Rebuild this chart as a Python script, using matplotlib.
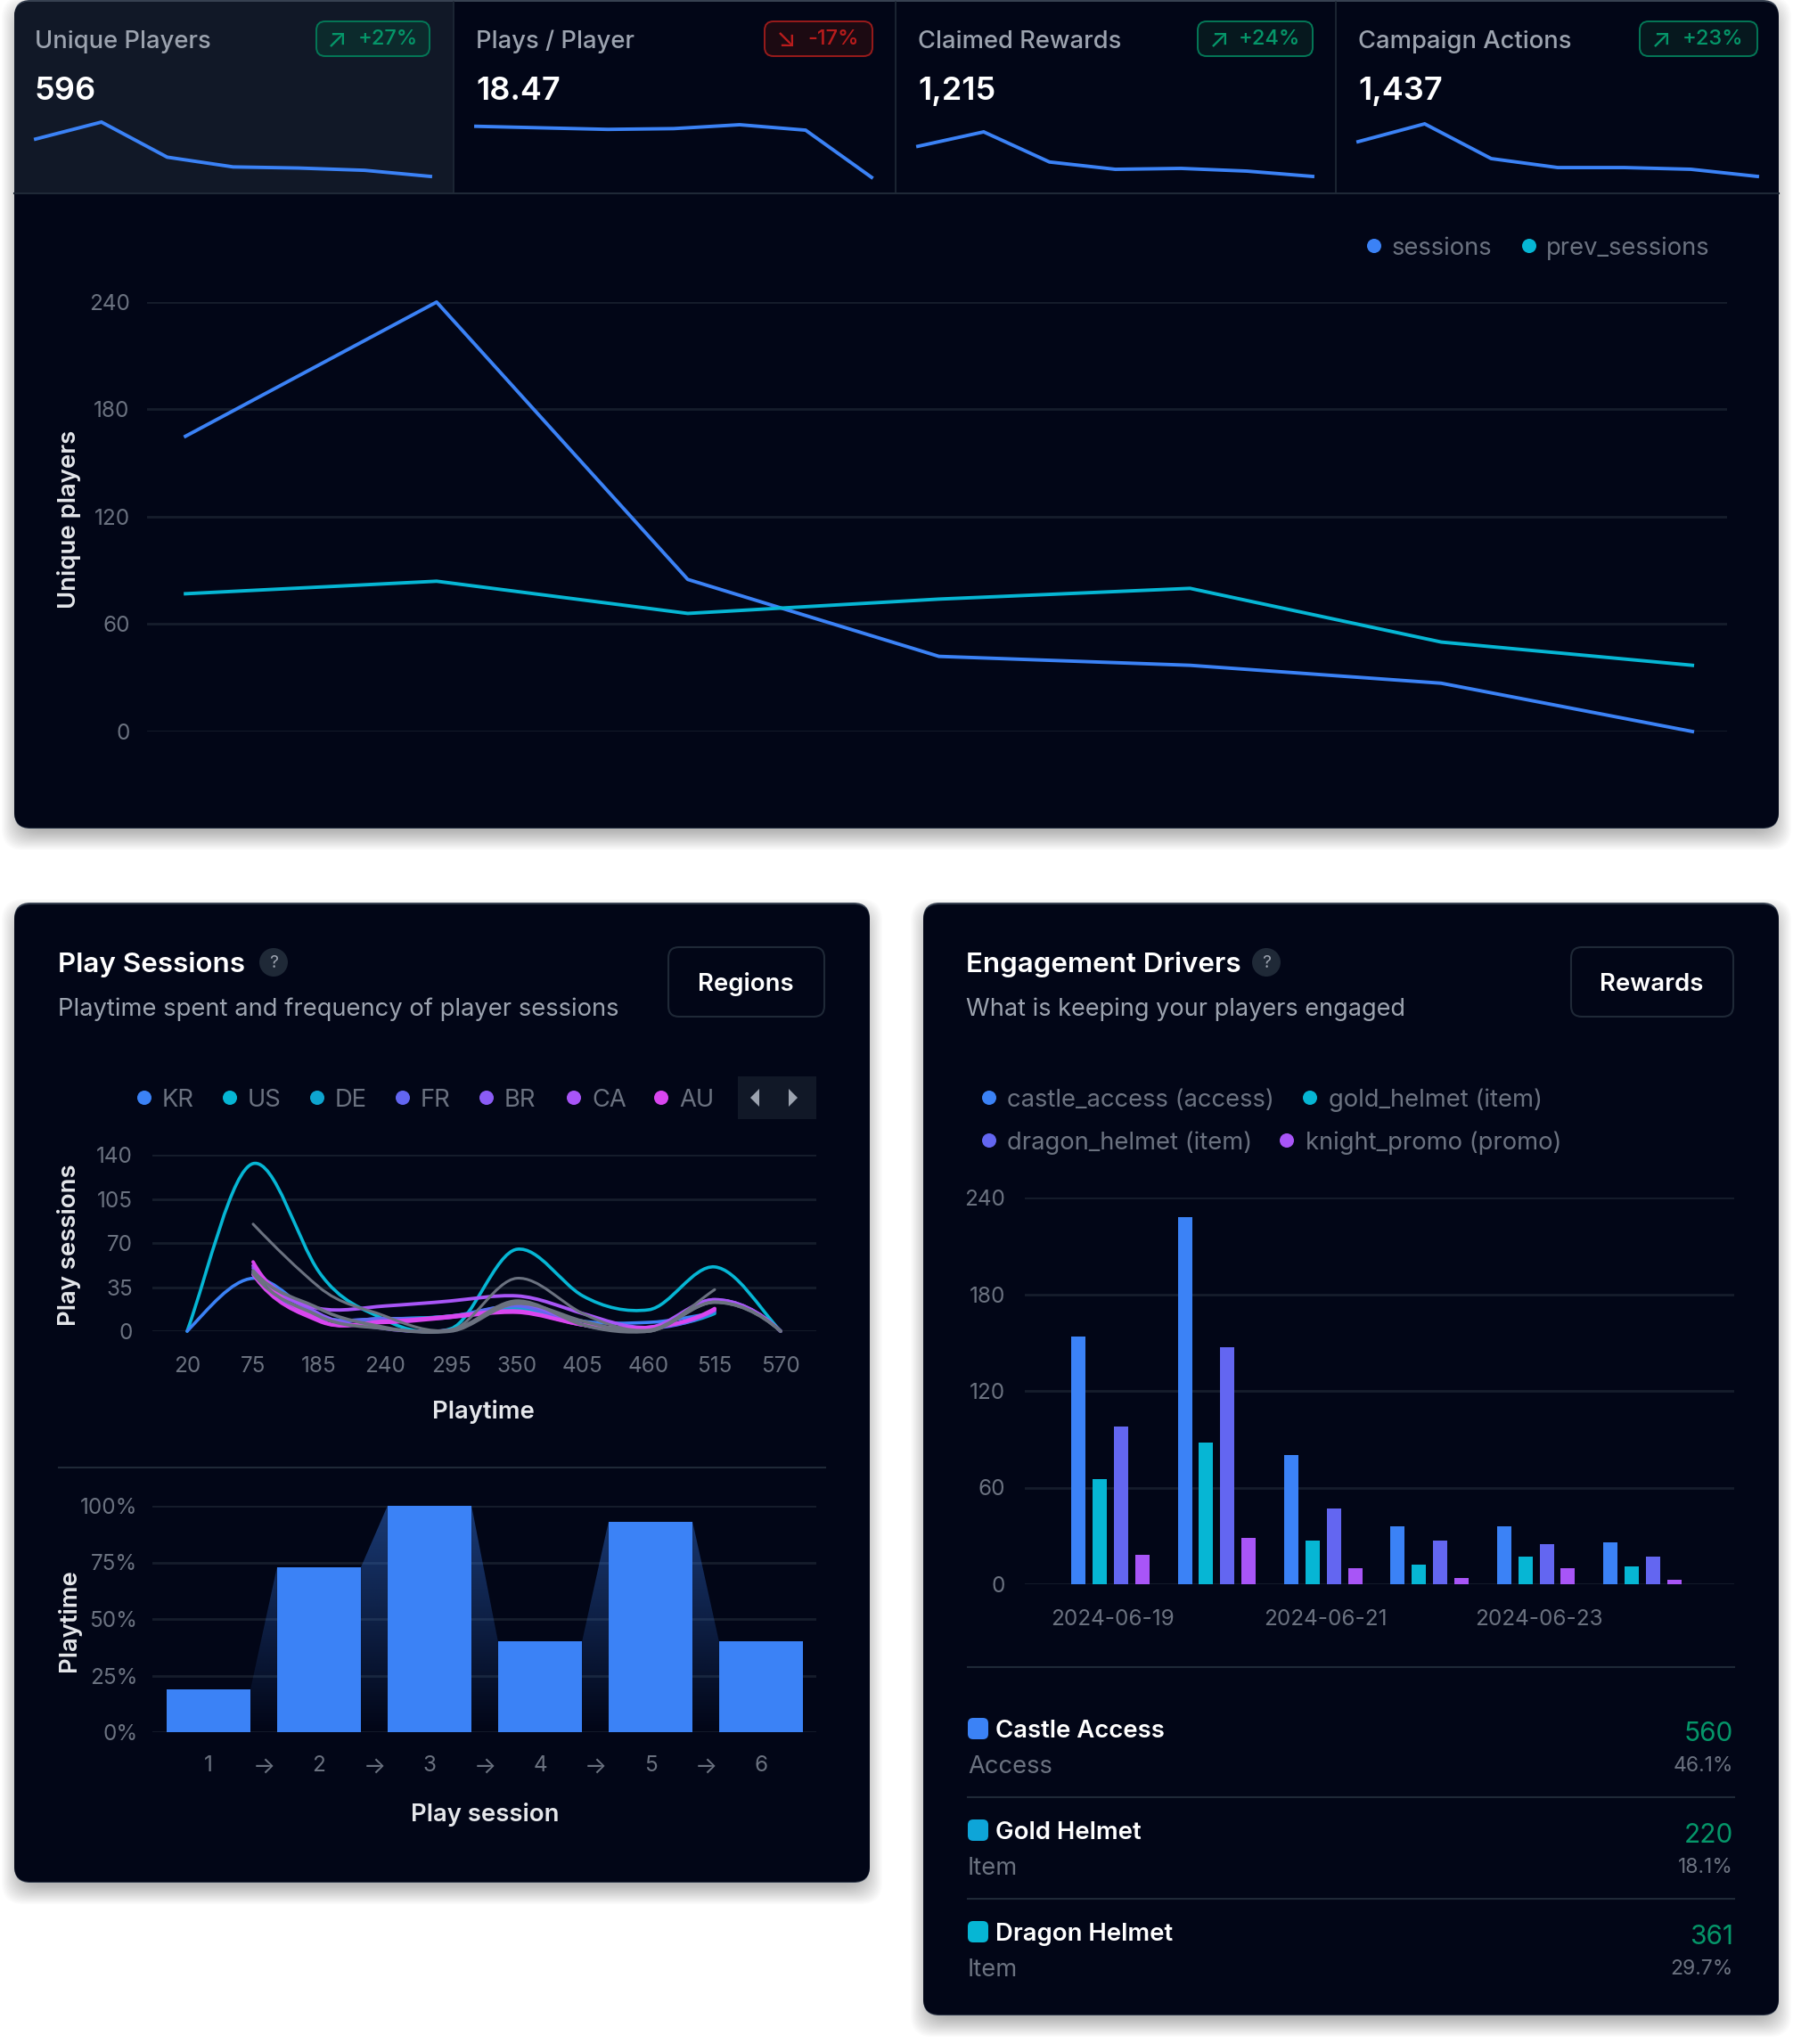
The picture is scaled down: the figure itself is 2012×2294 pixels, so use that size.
import numpy as np
import matplotlib
matplotlib.use('Agg')
import matplotlib.pyplot as plt
from matplotlib.patches import FancyBboxPatch, Rectangle, Circle, PathPatch, Polygon
from matplotlib.path import Path

W, H = 2012, 2294
plt.rcParams['font.family'] = ['Inter', 'DejaVu Sans']

PANEL = '#020617'
CELL = '#111827'
GRID = '#161d2c'
BORDER = '#1f2937'
TICK = '#6b7280'
SUB = '#9ca3af'
AXIS_TITLE = '#e5e7eb'
GREEN = '#059669'
RED = '#b91c1c'
BLUE = '#3b82f6'
CYAN = '#06b6d4'
INDIGO = '#6366f1'
PURPLE = '#a855f7'

# KPI cards
kpi_names = ['Unique Players', 'Plays / Player', 'Claimed Rewards', 'Campaign Actions']
kpi_values = ['596', '18.47', '1,215', '1,437']
kpi_deltas = ['+27%', '-17%', '+24%', '+23%']
spark_unique = [165, 240, 85, 42, 37, 27, 0]
spark_plays = [21.3, 21.1, 20.9, 21.0, 21.5, 20.8, 14.7]
spark_rewards = [334, 494, 160, 79, 89, 59, 0]
spark_actions = [384, 581, 197, 98, 98, 79, 0]

# main line chart
sessions = [165, 240, 85, 42, 37, 27, 0]
prev_sessions = [77, 84, 66, 74, 80, 50, 37]
main_ticks = [0, 60, 120, 180, 240]

# play sessions chart
playtime_labels = ['20', '75', '185', '240', '295', '350', '405', '460', '515', '570']
play_ticks = [0, 35, 70, 105, 140]
n = None
region_us = [0, 133, 47, 9, 2, 65, 28, 17, 51, 0]
region_kr = [0, 42, 12, 10, 12, 20, 8, 7, 15, n]
region_de = [n, 45, 12, 10, 12, 18, 5, 3, 14, n]
region_fr = [n, 47, 10, 10, 11, 20, 5, 2, 16, n]
region_br = [n, 50, 14, 2, 1, 22, 5, 1, 25, 0]
region_ca = [n, 52, 18, 20, 24, 28, 14, 3, 25, 0]
region_au = [n, 55, 9, 8, 12, 16, 5, 3, 17, n]
region_au2 = [n, 45, 8, 7, 11, 15, 5, 3, 18, n]
region_gray1 = [n, 85, 35, 12, 1, 42, 14, 1, 33, n]
region_gray2 = [n, 48, 18, 3, 0, 22, 8, 0, 23, 0]
region_gray3 = [n, 46, 12, 2, 1, 24, 5, 0, 23, 0]

# funnel bars
funnel_labels = ['1', '2', '3', '4', '5', '6']
funnel_values = [19, 73, 100, 40, 93, 40]
funnel_ticks = [0, 25, 50, 75, 100]

# engagement chart
castle_access = [154, 228, 80, 36, 36, 26]
gold_helmet = [65, 88, 27, 12, 17, 11]
dragon_helmet = [98, 147, 47, 27, 25, 17]
knight_promo = [18, 29, 10, 4, 10, 3]
engage_ticks = [0, 60, 120, 180, 240]
date_labels = ['2024-06-19', '2024-06-21', '2024-06-23']

# reward list
reward_names = ['Castle Access', 'Gold Helmet', 'Dragon Helmet']
reward_types = ['Access', 'Item', 'Item']
reward_counts = ['560', '220', '361']
reward_shares = ['46.1%', '18.1%', '29.7%']

fig = plt.figure(figsize=(W / 100, H / 100), dpi=100, facecolor='white')

# full figure axes in pixel coordinates for the cards and loose text
bg = fig.add_axes([0, 0, 1, 1], zorder=0)
bg.set_xlim(0, W)
bg.set_ylim(H, 0)
bg.axis('off')
top = fig.add_axes([0, 0, 1, 1], zorder=5)
top.set_xlim(0, W)
top.set_ylim(H, 0)
top.axis('off')


def chart_axes(x0, y0, x1, y1):
    ax = fig.add_axes([x0 / W, 1 - y1 / H, (x1 - x0) / W, (y1 - y0) / H], zorder=2)
    ax.patch.set_alpha(0)
    for s in ax.spines.values():
        s.set_visible(False)
    return ax


def card(x0, y0, x1, y1):
    # soft drop shadow, built up from stacked translucent boxes
    for i in range(20):
        grow = 14 - i * 1.2
        shadow = FancyBboxPatch((x0 - grow, y0 + 10 - grow), x1 - x0 + grow * 2,
                                y1 - y0 + grow * 2, boxstyle='round,pad=0,rounding_size=24',
                                fc='black', ec='none', alpha=0.016)
        bg.add_patch(shadow)
    # thin lighter edge, only really visible along the top
    bg.add_patch(FancyBboxPatch((x0, y0), x1 - x0, y1 - y0, boxstyle='round,pad=0,rounding_size=18',
                                fc='#374151', ec='none'))
    body = FancyBboxPatch((x0, y0 + 2), x1 - x0, y1 - y0 - 3, boxstyle='round,pad=0,rounding_size=18',
                          fc=PANEL, ec='none')
    bg.add_patch(body)
    return body


def smooth_line(ax, values, color, lw, end_slope=2.0, z=3):
    xs = [i for i, v in enumerate(values) if v is not None]
    ys = [values[i] for i in xs]
    m = []
    for k in range(len(xs)):
        if k == 0:
            m.append(end_slope * (ys[1] - ys[0]))
        elif k == len(xs) - 1:
            m.append(end_slope * (ys[k] - ys[k - 1]))
        elif (ys[k] - ys[k - 1]) * (ys[k + 1] - ys[k]) <= 0:
            m.append(0.3 * (ys[k + 1] - ys[k - 1]))
        else:
            m.append(0.6 * (ys[k + 1] - ys[k - 1]))
    verts = [(xs[0], ys[0])]
    codes = [Path.MOVETO]
    for k in range(len(xs) - 1):
        verts += [(xs[k] + 0.33, ys[k] + m[k] * 0.33), (xs[k + 1] - 0.33, ys[k + 1] - m[k + 1] * 0.33),
                  (xs[k + 1], ys[k + 1])]
        codes += [Path.CURVE4] * 3
    ax.add_patch(PathPatch(Path(verts, codes), fc='none', ec=color, lw=lw, zorder=z,
                           clip_on=False, capstyle='round'))


def style_value_axis(ax, ticks, fmt, pad, size=17.5):
    ax.set_yticks(ticks)
    ax.set_yticklabels([fmt.format(t) for t in ticks])
    ax.tick_params(axis='y', length=0, labelcolor=TICK, labelsize=size, pad=pad)
    ax.grid(axis='y', color=GRID, lw=2)
    ax.set_axisbelow(True)


def dot(x, y, color, r=8):
    top.add_patch(Circle((x, y), r, fc=color, ec='none'))


def label(x, y, s, color=SUB, size=19.7, weight='normal', ha='left', **kw):
    top.text(x, y + 2.5, s, color=color, fontsize=size, fontweight=weight, ha=ha, va='center', **kw)


def axis_title(x, y, s, rotation=0):
    top.text(x, y + 2, s, color=AXIS_TITLE, fontsize=19.8, fontweight='semibold',
             rotation=rotation, ha='center', va='center')


# ---- top panel
main_card = card(16, 0, 1996, 930)
cell = Rectangle((16, 2), 493, 215, fc=CELL, ec='none')
bg.add_patch(cell)
cell.set_clip_path(main_card)
bg.plot([16, 1996], [217, 217], color=BORDER, lw=1.5)
for x in [509, 1005, 1499]:
    bg.plot([x, x], [2, 217], color=BORDER, lw=1.2)

text_x = [39, 534, 1030, 1524]
spark_x = [(40, 483), (534, 978), (1030, 1473), (1524, 1972)]
spark_y = [(137, 198), (140, 199), (148, 198), (139, 198)]
spark_data = [spark_unique, spark_plays, spark_rewards, spark_actions]
badges = [(355, 482, 378, 469), (858, 979, 882, 964), (1344, 1473, 1368, 1459), (1840, 1972, 1864, 1956)]

for i in range(4):
    label(text_x[i], 44, kpi_names[i], color=SUB, weight='medium')
    label(text_x[i], 100, kpi_values[i], color='white', size=26, weight='semibold')
    b0, b1, arrow_x, text_r = badges[i]
    col = RED if kpi_deltas[i].startswith('-') else GREEN
    edge = '#991b1b' if col == RED else '#047857'
    fill = '#1c0a12' if col == RED else '#06181e'
    if i == 0:
        fill = '#0c2a2c'
    top.add_patch(FancyBboxPatch((b0, 24), b1 - b0, 39, boxstyle='round,pad=0,rounding_size=10',
                                 fc=fill, ec=edge, lw=1.4))
    label(arrow_x, 42, '↘' if col == RED else '↗', color=col, size=21, ha='center')
    label(text_r, 42, kpi_deltas[i], color=col, size=17, ha='right', weight='medium')

    ax = chart_axes(spark_x[i][0], spark_y[i][0], spark_x[i][1], spark_y[i][1])
    ax.plot(range(7), spark_data[i], color=BLUE, lw=2.8, clip_on=False, solid_joinstyle='miter')
    ax.set_xlim(0, 6)
    ax.set_ylim(min(spark_data[i]), max(spark_data[i]))
    ax.axis('off')

ax = chart_axes(165, 339, 1938, 821)
ax.plot(range(7), sessions, color=BLUE, lw=2.8, clip_on=False, zorder=3)
ax.plot(range(7), prev_sessions, color=CYAN, lw=2.8, clip_on=False, zorder=3)
ax.set_xlim(-0.153, 6.138)
ax.set_ylim(0, 240)
ax.set_xticks([])
style_value_axis(ax, main_ticks, '{}', 14)
axis_title(78, 581, 'Unique players', rotation=90)

dot(1542, 276, BLUE)
label(1562, 276, 'sessions', color=TICK)
dot(1716, 276, CYAN)
label(1735, 276, 'prev_sessions', color=TICK)

# ---- play sessions panel
card(16, 1013, 976, 2113)
label(65, 1080, 'Play Sessions', color='white', size=22.6, weight='semibold')
top.add_patch(Circle((307, 1080), 16, fc=BORDER, ec='none'))
label(307, 1078, '?', color=SUB, size=14, ha='center')
label(65, 1130, 'Playtime spent and frequency of player sessions', color=SUB)
top.add_patch(FancyBboxPatch((750, 1063), 175, 78, boxstyle='round,pad=0,rounding_size=12',
                             fc='none', ec=BORDER, lw=1.5))
label(837, 1102, 'Regions', color='white', size=19.8, weight='semibold', ha='center')

region_names = ['KR', 'US', 'DE', 'FR', 'BR', 'CA', 'AU']
region_colors = [BLUE, CYAN, '#0ea5d0', INDIGO, '#8b5cf6', PURPLE, '#d946ef']
legend_dot_x = [162, 258, 356, 452, 546, 644, 742]
for x, name, col in zip(legend_dot_x, region_names, region_colors):
    dot(x, 1232, col)
    label(x + 20, 1232, name, color=TICK)
top.add_patch(Rectangle((828, 1208), 88, 48, fc=CELL, ec='none'))
top.add_patch(Polygon([(852, 1222), (852, 1242), (842, 1232)], fc=SUB, ec='none'))
top.add_patch(Polygon([(885, 1222), (885, 1242), (895, 1232)], fc=SUB, ec='none'))

ax = chart_axes(171, 1296, 916, 1494)
ax.set_xlim((171 - 210) / 74, (916 - 210) / 74)
ax.set_ylim(0, 140)
ax.set_xticks(range(10))
ax.set_xticklabels(playtime_labels)
ax.tick_params(axis='x', length=0, labelcolor=TICK, labelsize=17.5, pad=20)
style_value_axis(ax, play_ticks, '{}', 16)
smooth_line(ax, region_us, CYAN, 2.6, end_slope=1.1)
smooth_line(ax, region_kr, BLUE, 2.6, end_slope=1.3)
smooth_line(ax, region_de, '#0ea5d0', 2.6)
smooth_line(ax, region_fr, INDIGO, 2.6)
smooth_line(ax, region_br, '#8b5cf6', 2.6)
smooth_line(ax, region_ca, PURPLE, 2.8)
smooth_line(ax, region_au, '#d946ef', 2.8)
smooth_line(ax, region_au2, '#d946ef', 2.8)
smooth_line(ax, region_gray1, '#6b7280', 2.2, end_slope=1.1)
smooth_line(ax, region_gray2, '#6b7280', 2.6)
smooth_line(ax, region_gray3, '#6b7280', 2.6)
axis_title(78, 1395, 'Play sessions', rotation=90)
axis_title(542, 1583, 'Playtime')

bg.plot([66, 926], [1647, 1647], color=BORDER, lw=1.5)

ax = chart_axes(171, 1690, 916, 1944)
ax.set_xlim(-0.508, 5.5)
ax.set_ylim(0, 100)
ax.set_xticks(range(6))
ax.set_xticklabels(funnel_labels)
ax.tick_params(axis='x', length=0, labelcolor=TICK, labelsize=17.5, pad=19)
style_value_axis(ax, funnel_ticks, '{}%', 12)
bar_w = 0.76
ax.bar(range(6), funnel_values, width=bar_w, color=BLUE, zorder=3)
# gradient wedges between the bars
ramp = np.zeros((256, 2, 4))
ramp[..., 0:3] = matplotlib.colors.to_rgb(BLUE)
ramp[..., 3] = np.linspace(0.42, 0.0, 256)[:, None]
for i in range(5):
    left, right = i + bar_w / 2, i + 1 - bar_w / 2
    im = ax.imshow(ramp, extent=(left, right, 0, 100), origin='upper', aspect='auto', zorder=2,
                   interpolation='bilinear')
    wedge = Polygon([(left, 0), (left, funnel_values[i]), (right, funnel_values[i + 1]), (right, 0)],
                    transform=ax.transData, fc='none', ec='none')
    ax.add_patch(wedge)
    im.set_clip_path(wedge)
ax.set_xlim(-0.508, 5.5)
ax.set_ylim(0, 100)
for i in range(5):
    label(234 + 124 * i + 62, 1980, '→', color=TICK, size=19, ha='center')
axis_title(78, 1817, 'Playtime', rotation=90)
axis_title(544, 2034, 'Play session')

# ---- engagement panel
card(1036, 1013, 1996, 2262)
label(1084, 1080, 'Engagement Drivers', color='white', size=22.6, weight='semibold')
top.add_patch(Circle((1421, 1080), 16, fc=BORDER, ec='none'))
label(1421, 1078, '?', color=SUB, size=14, ha='center')
label(1084, 1130, 'What is keeping your players engaged', color=SUB, size=19.5)
top.add_patch(FancyBboxPatch((1763, 1063), 182, 78, boxstyle='round,pad=0,rounding_size=12',
                             fc='none', ec=BORDER, lw=1.5))
label(1853, 1102, 'Rewards', color='white', size=19.8, weight='semibold', ha='center')

dot(1110, 1232, BLUE)
label(1130, 1232, 'castle_access (access)', color=TICK)
dot(1470, 1232, CYAN)
label(1491, 1232, 'gold_helmet (item)', color=TICK)
dot(1110, 1280, INDIGO)
label(1130, 1280, 'dragon_helmet (item)', color=TICK)
dot(1444, 1280, PURPLE)
label(1465, 1280, 'knight_promo (promo)', color=TICK)

ax = chart_axes(1150, 1344, 1946, 1778)
days = np.arange(6)
for offset, vals, col in zip([-0.3, -0.1, 0.1, 0.3], [castle_access, gold_helmet, dragon_helmet, knight_promo],
                             [BLUE, CYAN, INDIGO, PURPLE]):
    ax.bar(days + offset, vals, width=0.134, color=col, zorder=3)
ax.set_xlim(-0.804, 5.863)
ax.set_ylim(0, 240)
ax.set_xticks([0.025, 2.025, 4.025])
ax.set_xticklabels(date_labels)
ax.tick_params(axis='x', length=0, labelcolor=TICK, labelsize=17.5, pad=20)
style_value_axis(ax, engage_ticks, '{}', 16)

bg.plot([1086, 1946], [1871, 1871], color=BORDER, lw=1.5)
bg.plot([1086, 1946], [2017, 2017], color=BORDER, lw=1.5)
bg.plot([1086, 1946], [2131, 2131], color=BORDER, lw=1.5)
row_y = [1940, 2054, 2168]
swatches = [BLUE, '#0ea5d8', CYAN]
for i in range(3):
    y = row_y[i]
    top.add_patch(FancyBboxPatch((1086, y - 12), 23, 24, boxstyle='round,pad=0,rounding_size=6',
                                 fc=swatches[i], ec='none'))
    label(1117, y, reward_names[i], color='white', size=19.8, weight='semibold')
    label(1086, y + 40, reward_types[i], color=TICK)
    label(1945, y + 4, reward_counts[i], color=GREEN, size=21.5, ha='right')
    label(1945, y + 39, reward_shares[i], color=TICK, size=16.5, ha='right')

fig.savefig('out.png', dpi=100, facecolor='white')
plt.close(fig)
